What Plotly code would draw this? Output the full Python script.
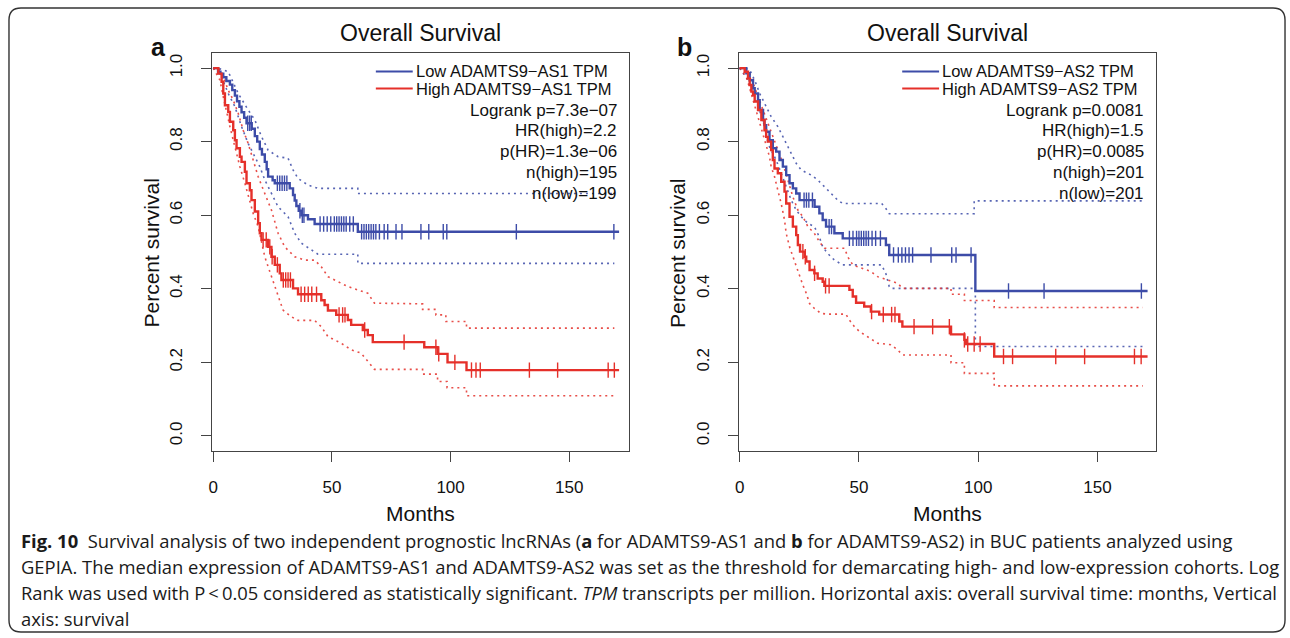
import numpy as np
import plotly.graph_objects as go

W, H = 1290, 638
BLUE = "#3d4ca8"
RED = "#e5302a"

# ---------------- Panel a: ADAMTS9-AS1 ----------------
a_low_t = [0, 2.0, 3.0, 4.2, 5.5, 7.0, 8.0, 9.1, 10.0, 11.0, 11.9, 13.0, 14.0, 16.2, 17.5, 18.5, 19.6,
           20.5, 21.7, 22.5, 23.1, 25.0, 25.9, 32.2, 33.6, 34.3, 35.0, 36.0, 37.1, 39.9, 42.7, 60.9, 171]
a_low_s = [1.0, 0.99, 0.985, 0.975, 0.965, 0.955, 0.94, 0.925, 0.91, 0.895, 0.88, 0.865, 0.85, 0.835, 0.815, 0.80, 0.78,
           0.765, 0.745, 0.725, 0.705, 0.695, 0.687, 0.673, 0.655, 0.64, 0.625, 0.612, 0.60, 0.589, 0.576, 0.555, 0.555]
a_low_cens = [14.5, 15.3, 16.0, 27, 28, 29, 30, 31, 36.5, 37.5, 38.2, 45, 46.5, 48, 49.5, 51, 52, 53, 54, 55, 56,
              57.5, 59, 62.5, 63.5, 64.5, 65.5, 66.5, 67.5, 68.5, 70, 72, 73.5, 77, 79.5, 87.5, 90.8, 96.9, 98.4,
              127.7, 168.8]

a_high_t = [0, 2.1, 3.5, 4.2, 4.9, 6.3, 7.0, 8.4, 9.1, 9.8, 11.2, 11.9, 13.3, 14.0, 15.4, 16.1, 17.5, 18.9, 19.6,
            20.3, 23.1, 24.5, 25.9, 28.0, 28.7, 33.6, 35.7, 45.5, 46.9, 48.3, 51.8, 56.7, 58.1, 63.0, 65.1, 67.2,
            88.9, 94.5, 98.7, 106.7, 171]
a_high_s = [1.0, 0.985, 0.963, 0.931, 0.899, 0.881, 0.854, 0.831, 0.804, 0.782, 0.759, 0.745, 0.718, 0.687, 0.668,
            0.641, 0.610, 0.578, 0.551, 0.533, 0.514, 0.487, 0.465, 0.442, 0.424, 0.401, 0.385, 0.369, 0.356, 0.341,
            0.329, 0.315, 0.302, 0.288, 0.274, 0.255, 0.241, 0.223, 0.200, 0.179, 0.179]
a_high_cens = [21.0, 22.3, 23.8, 24.8, 27.0, 29.5, 30.5, 31.5, 32.5, 37.0, 38.5, 40.0, 41.5, 43.5, 53.0, 54.5, 55.5,
               63.8, 80.4, 93.8, 95.0, 101.8, 108.8, 110.7, 112.5, 133.2, 145.1, 166.4, 169.0]

a_low_up_t = [0, 2.1, 6.3, 10.5, 14.7, 17.5, 20.3, 23.1, 27.3, 31.5, 33.6, 35.7, 39.9, 44.1, 60.9, 60.9, 169]
a_low_up_s = [1.0, 1.0, 0.990, 0.931, 0.886, 0.859, 0.814, 0.777, 0.759, 0.755, 0.723, 0.700, 0.682, 0.673, 0.673,
              0.659, 0.659]
a_low_lo_t = [0, 3.5, 6.3, 9.1, 11.9, 14.7, 17.5, 19.6, 21.7, 24.5, 27.3, 31.5, 34.3, 37.1, 41.3, 44.1, 60.9, 60.9, 169]
a_low_lo_s = [1.0, 0.976, 0.931, 0.895, 0.841, 0.795, 0.759, 0.732, 0.696, 0.659, 0.623, 0.596, 0.551, 0.524, 0.506,
              0.494, 0.494, 0.469, 0.469]
a_high_up_t = [0, 2.1, 4.2, 6.3, 8.4, 10.5, 12.6, 14.7, 16.8, 18.9, 21.7, 24.5, 27.3, 30.1, 34.3, 38.5, 42.7, 45.5,
               48.3, 52.5, 56.7, 60.9, 65.1, 67.9, 88.2, 88.2, 93.8, 93.8, 98.0, 98.0, 106.7, 106.7, 169]
a_high_up_s = [1.0, 1.0, 0.976, 0.940, 0.913, 0.877, 0.831, 0.795, 0.750, 0.705, 0.659, 0.614, 0.551, 0.514, 0.487,
               0.478, 0.478, 0.460, 0.433, 0.419, 0.406, 0.397, 0.388, 0.361, 0.359, 0.344, 0.344, 0.329, 0.329,
               0.311, 0.311, 0.293, 0.293]
a_high_lo_t = [0, 2.8, 4.2, 5.6, 7.0, 8.4, 9.8, 11.2, 13.3, 15.4, 16.8, 18.9, 20.3, 21.7, 23.1, 24.5, 26.6, 28.0,
               29.4, 32.9, 35.7, 42.7, 45.5, 48.3, 53.9, 58.1, 62.3, 65.1, 67.9, 88.2, 88.2, 94.5, 94.5, 98.5, 98.5,
               106.7, 106.7, 169]
a_high_lo_s = [1.0, 0.967, 0.922, 0.877, 0.841, 0.804, 0.768, 0.732, 0.687, 0.641, 0.605, 0.569, 0.524, 0.487, 0.460,
               0.433, 0.397, 0.370, 0.342, 0.324, 0.314, 0.314, 0.297, 0.270, 0.252, 0.234, 0.225, 0.203, 0.181,
               0.181, 0.168, 0.168, 0.148, 0.148, 0.131, 0.131, 0.109, 0.109]

# ---------------- Panel b: ADAMTS9-AS2 ----------------
b_low_t = [0, 2.8, 4.2, 5.6, 6.3, 7.7, 8.4, 9.8, 10.4, 11.1, 12.5, 13.9, 15.3, 16.7, 18.1, 19.5, 20.9, 22.3, 23.7,
           25.1, 31.4, 33.4, 34.8, 36.2, 39.7, 43.2, 61.3, 62.7, 98.8, 171]
b_low_s = [1.0, 0.986, 0.967, 0.945, 0.931, 0.913, 0.886, 0.859, 0.845, 0.827, 0.804, 0.782, 0.773, 0.750, 0.732,
           0.709, 0.687, 0.673, 0.659, 0.641, 0.623, 0.605, 0.587, 0.569, 0.551, 0.537, 0.519, 0.492, 0.394, 0.394]
b_low_cens = [27.0, 28.0, 29.0, 30.5, 37.5, 38.5, 46, 47.5, 49, 50, 51, 52, 53, 54, 55.5, 57, 59, 64.5, 66.5, 68,
              69.5, 71, 72.5, 80.2, 88.9, 90.7, 97.0, 112.7, 127.6, 168.4]

b_high_t = [0, 2.1, 3.5, 4.2, 4.9, 5.6, 6.3, 7.7, 9.1, 10.4, 11.1, 11.8, 13.2, 13.9, 14.6, 16.0, 17.4, 18.8, 19.5,
            20.9, 22.3, 23.7, 24.4, 25.3, 27.2, 27.9, 29.3, 31.3, 32.7, 34.8, 35.5, 46.0, 47.4, 48.8, 52.2, 55.0,
            58.5, 66.9, 68.2, 88.6, 94.2, 94.9, 106.7, 171]
b_high_s = [1.0, 0.990, 0.972, 0.954, 0.936, 0.927, 0.909, 0.886, 0.859, 0.831, 0.813, 0.800, 0.777, 0.750, 0.727,
            0.714, 0.691, 0.664, 0.632, 0.596, 0.569, 0.546, 0.519, 0.501, 0.487, 0.474, 0.451, 0.442, 0.428, 0.419,
            0.408, 0.397, 0.379, 0.362, 0.352, 0.338, 0.330, 0.311, 0.297, 0.276, 0.261, 0.250, 0.216, 0.216]
b_high_cens = [26.5, 27.5, 31.4, 36.0, 37.5, 55.3, 60.2, 63.7, 65.1, 73.1, 80.9, 87.9, 94.2, 95.6, 98.3, 100.8,
               110.6, 114.4, 132.5, 144.6, 165.5, 168.3]

b_low_up_t = [0, 2.1, 4.2, 6.3, 8.4, 10.4, 13.2, 16.0, 18.8, 21.6, 23.7, 25.8, 30.0, 32.7, 35.5, 38.3, 41.1, 43.2,
              59.5, 61.3, 62.7, 98.3, 98.3, 169]
b_low_up_s = [1.0, 1.0, 0.995, 0.967, 0.931, 0.904, 0.868, 0.841, 0.804, 0.768, 0.741, 0.723, 0.709, 0.696, 0.678,
              0.659, 0.641, 0.632, 0.632, 0.618, 0.604, 0.604, 0.639, 0.639]
b_low_lo_t = [0, 3.5, 5.6, 7.7, 9.8, 11.1, 12.5, 13.9, 15.3, 17.4, 19.5, 21.6, 23.7, 25.8, 28.6, 31.3, 33.4, 34.8,
              36.9, 39.7, 43.2, 59.5, 61.3, 62.7, 63.4, 98.8, 98.8, 169]
b_low_lo_s = [1.0, 0.967, 0.931, 0.895, 0.859, 0.814, 0.786, 0.768, 0.750, 0.714, 0.677, 0.641, 0.614, 0.596, 0.578,
              0.569, 0.541, 0.514, 0.496, 0.478, 0.465, 0.465, 0.441, 0.406, 0.401, 0.401, 0.243, 0.243]
b_high_up_t = [0, 2.1, 4.2, 5.6, 7.7, 9.8, 11.8, 13.9, 16.0, 18.1, 20.2, 22.3, 24.4, 26.5, 28.6, 31.3, 33.4, 35.5,
               44.0, 45.3, 47.4, 50.8, 55.0, 57.8, 62.0, 66.2, 68.3, 88.6, 88.6, 94.2, 94.2, 106.7, 106.7, 169]
b_high_up_s = [1.0, 1.0, 0.985, 0.958, 0.922, 0.886, 0.850, 0.814, 0.777, 0.741, 0.696, 0.650, 0.614, 0.596, 0.569,
               0.551, 0.528, 0.510, 0.510, 0.487, 0.465, 0.456, 0.447, 0.433, 0.424, 0.415, 0.401, 0.401, 0.385,
               0.385, 0.368, 0.368, 0.349, 0.349]
b_high_lo_t = [0, 2.8, 4.2, 5.6, 7.0, 8.4, 9.8, 11.1, 12.5, 13.2, 14.6, 16.0, 17.4, 18.8, 19.5, 20.9, 22.3, 23.7,
               25.1, 26.5, 27.9, 29.3, 31.3, 34.1, 36.9, 44.5, 46.0, 48.1, 50.2, 53.6, 57.8, 63.4, 66.2, 68.3, 88.6,
               88.6, 94.2, 94.2, 106.7, 106.7, 169]
b_high_lo_s = [1.0, 0.976, 0.945, 0.913, 0.886, 0.850, 0.822, 0.786, 0.759, 0.732, 0.705, 0.668, 0.632, 0.587,
               0.551, 0.514, 0.487, 0.460, 0.433, 0.410, 0.388, 0.360, 0.347, 0.333, 0.331, 0.331, 0.315, 0.297,
               0.284, 0.270, 0.252, 0.248, 0.234, 0.220, 0.220, 0.199, 0.199, 0.170, 0.170, 0.136, 0.136]

legend_a = ["Low ADAMTS9\u2212AS1 TPM", "High ADAMTS9\u2212AS1 TPM"]
legend_b = ["Low ADAMTS9\u2212AS2 TPM", "High ADAMTS9\u2212AS2 TPM"]
stats_a = ["Logrank p=7.3e\u221207", "HR(high)=2.2", "p(HR)=1.3e\u221206", "n(high)=195", "n(low)=199"]
stats_b = ["Logrank p=0.0081", "HR(high)=1.5", "p(HR)=0.0085", "n(high)=201", "n(low)=201"]
x_ticks = [0, 50, 100, 150]
y_ticks = [0.0, 0.2, 0.4, 0.6, 0.8, 1.0]

caption_lines = [
    "<b>Fig. 10</b>  Survival analysis of two independent prognostic lncRNAs (<b>a</b> for ADAMTS9-AS1 and "
    "<b>b</b> for ADAMTS9-AS2) in BUC patients analyzed using",
    "GEPIA. The median expression of ADAMTS9-AS1 and ADAMTS9-AS2 was set as the threshold for demarcating "
    "high- and low-expression cohorts. Log",
    "Rank was used with P\u2009<\u20090.05 considered as statistically significant. <i>TPM</i> transcripts per "
    "million. Horizontal axis: overall survival time: months, Vertical",
    "axis: survival",
]


def px(x):
    return x / W


def py(y):
    return 1 - y / H


def step_value(t, s, c):
    t = np.asarray(t)
    s = np.asarray(s)
    idx = np.searchsorted(t, np.asarray(c), side="right") - 1
    return s[idx]


fig = go.Figure()

panels = [
    dict(xa="x", ya="y", low=(a_low_t, a_low_s, a_low_cens), high=(a_high_t, a_high_s, a_high_cens),
         ci=[(a_low_up_t, a_low_up_s, BLUE), (a_low_lo_t, a_low_lo_s, BLUE),
             (a_high_up_t, a_high_up_s, RED), (a_high_lo_t, a_high_lo_s, RED)],
         leg=legend_a, stats=stats_a, left=209, right=627, tag="a"),
    dict(xa="x2", ya="y2", low=(b_low_t, b_low_s, b_low_cens), high=(b_high_t, b_high_s, b_high_cens),
         ci=[(b_low_up_t, b_low_up_s, BLUE), (b_low_lo_t, b_low_lo_s, BLUE),
             (b_high_up_t, b_high_up_s, RED), (b_high_lo_t, b_high_lo_s, RED)],
         leg=legend_b, stats=stats_b, left=737, right=1156, tag="b"),
]

annotations = []
shapes = []
TOP, BOT = 53, 451

for p in panels:
    for (t, s, col) in p["ci"]:
        fig.add_trace(go.Scatter(x=t, y=s, mode="lines", xaxis=p["xa"], yaxis=p["ya"],
                                 line=dict(color=col, width=1.6, dash="2px,4px"), opacity=0.85,
                                 showlegend=False, hoverinfo="skip"))
    for (t, s, cens), col, name in [(p["low"], BLUE, p["leg"][0]), (p["high"], RED, p["leg"][1])]:
        fig.add_trace(go.Scatter(x=t, y=s, mode="lines", xaxis=p["xa"], yaxis=p["ya"], name=name,
                                 line=dict(color=col, width=2.4, shape="hv"), showlegend=False))
        fig.add_trace(go.Scatter(x=cens, y=step_value(t, s, cens), mode="markers", xaxis=p["xa"], yaxis=p["ya"],
                                 marker=dict(symbol="line-ns", size=11, line=dict(color=col, width=1.4)),
                                 showlegend=False, hoverinfo="skip"))
    L, R = p["left"], p["right"]
    cx = (L + R) / 2
    # title
    annotations.append(dict(x=px(cx), y=py(33), xref="paper", yref="paper", text="Overall Survival",
                            showarrow=False, font=dict(size=23, color="#111"), xanchor="center", yanchor="middle"))
    # panel tag
    annotations.append(dict(x=px(L - 54), y=py(47), xref="paper", yref="paper", text="<b>%s</b>" % p["tag"],
                            showarrow=False, font=dict(size=25, color="#111"), xanchor="center", yanchor="middle"))
    # axis titles
    annotations.append(dict(x=px(cx), y=py(513), xref="paper", yref="paper", text="Months",
                            showarrow=False, font=dict(size=21, color="#111"), xanchor="center", yanchor="middle"))
    annotations.append(dict(x=px(L - 62), y=py(253), xref="paper", yref="paper", text="Percent survival",
                            textangle=-90, showarrow=False, font=dict(size=21, color="#111"),
                            xanchor="center", yanchor="middle"))
    # legend
    for i, (txt, col) in enumerate(zip(p["leg"], [BLUE, RED])):
        yy = 71.5 + 17 * i
        shapes.append(dict(type="line", xref="paper", yref="paper", x0=px(L + 164), x1=px(L + 201),
                           y0=py(yy), y1=py(yy), line=dict(color=col, width=2.2)))
        annotations.append(dict(x=px(L + 203), y=py(yy), xref="paper", yref="paper", text=txt,
                                showarrow=False, font=dict(size=16.5, color="#111"), xanchor="left",
                                yanchor="middle", borderpad=0))
    for i, txt in enumerate(p["stats"]):
        yy = 110 + 20.8 * i
        annotations.append(dict(x=px(R - 10), y=py(yy), xref="paper", yref="paper", text=txt,
                                showarrow=False, font=dict(size=17, color="#111"), xanchor="right",
                                yanchor="middle"))

# caption
for i, line in enumerate(caption_lines):
    annotations.append(dict(x=px(15), y=py(540 + 26.3 * i), xref="paper", yref="paper", text=line,
                            showarrow=False, font=dict(size=18.4, color="#1a1a1a", family="Open Sans"),
                            xanchor="left", yanchor="middle"))

# rounded frame
x0, y0, x1, y1, r = 5, 8, 1285, 632, 12
path = (f"M {x0 + r},{y0} L {x1 - r},{y0} Q {x1},{y0} {x1},{y0 + r} L {x1},{y1 - r} "
        f"Q {x1},{y1} {x1 - r},{y1} L {x0 + r},{y1} Q {x0},{y1} {x0},{y1 - r} L {x0},{y0 + r} "
        f"Q {x0},{y0} {x0 + r},{y0} Z")
shapes.append(dict(type="path", xref="paper", yref="paper",
                   path=" ".join(
                       (f"{float(tok.split(',')[0]) / W},{1 - float(tok.split(',')[1]) / H}" if "," in tok else tok)
                       for tok in path.split()),
                   line=dict(color="#333", width=1.4)))

axis_common = dict(showline=True, mirror=True, linecolor="#444", linewidth=1.4, ticks="outside", ticklen=10,
                   tickwidth=1.4, tickcolor="#444", showgrid=False, zeroline=False,
                   tickfont=dict(size=17, color="#111"))

fig.update_layout(
    width=W, height=H, margin=dict(l=0, r=0, t=0, b=0),
    paper_bgcolor="white", plot_bgcolor="white",
    font=dict(family="Liberation Sans, Arial, sans-serif", color="#111"),
    showlegend=False,
    xaxis=dict(domain=[px(209), px(627)], range=[-0.4, 175.2], tickvals=x_ticks, anchor="y",
               ticklabelstandoff=10, **axis_common),
    yaxis=dict(domain=[py(BOT), py(TOP)], range=[-0.041, 1.041], tickvals=y_ticks, tickformat=".1f",
               tickangle=-90, anchor="x", ticklabelstandoff=12, **axis_common),
    xaxis2=dict(domain=[px(737), px(1156)], range=[-0.4, 174.7], tickvals=x_ticks, anchor="y2",
                ticklabelstandoff=10, **axis_common),
    yaxis2=dict(domain=[py(BOT), py(TOP)], range=[-0.041, 1.041], tickvals=y_ticks, tickformat=".1f",
                tickangle=-90, anchor="x2", ticklabelstandoff=12, **axis_common),
    annotations=annotations,
    shapes=shapes,
)

fig.write_html("out.html")
